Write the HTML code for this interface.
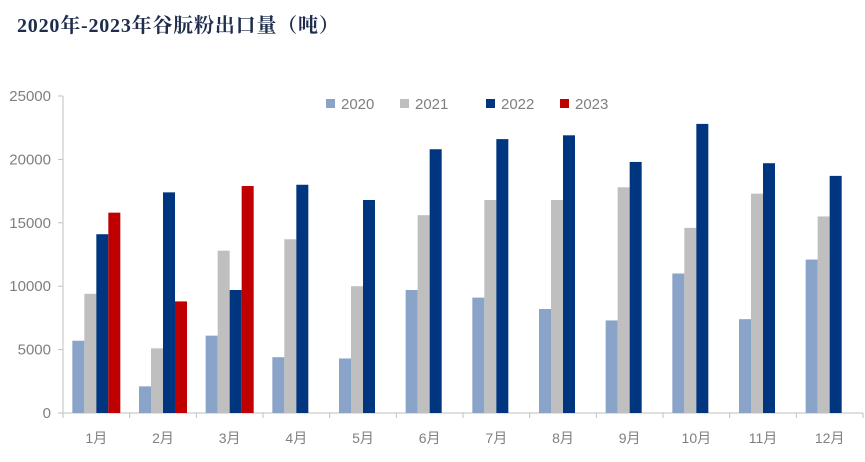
<!DOCTYPE html>
<html><head><meta charset="utf-8"><style>
body{margin:0;background:#fff;width:865px;height:462px;overflow:hidden}
.t{position:absolute;left:17px;top:9px;font:bold 20px "Liberation Serif","Noto Serif CJK SC",serif;letter-spacing:0.8px;color:#1f2d4d}
</style></head><body>
<div class="t">2020年-2023年谷朊粉出口量（吨）</div>
<svg id="c" width="865" height="462" style="position:absolute;left:0;top:0"></svg>
<script>
const categories=["1月","2月","3月","4月","5月","6月","7月","8月","9月","10月","11月","12月"];
const s2020=[5700,2100,6100,4400,4300,9700,9100,8200,7300,11000,7400,12100];
const s2021=[9400,5100,12800,13700,10000,15600,16800,16800,17800,14600,17300,15500];
const s2022=[14100,17400,9700,18000,16800,20800,21600,21900,19800,22800,19700,18700];
const s2023=[15800,8800,17900,null,null,null,null,null,null,null,null,null];
const yTicks=[0,5000,10000,15000,20000,25000];
const seriesNames=["2020","2021","2022","2023"];
const colors=["#8aa3c8","#bfbfbf","#003580","#c00000"];
const NS="http://www.w3.org/2000/svg";
const svg=document.getElementById('c');
const x0=63,x1=863,y0=413,yTop=96,yMax=25000;
const cw=(x1-x0)/categories.length,bw=12;
const y=v=>y0-(v/yMax)*(y0-yTop);
function mk(t,a){const e=document.createElementNS(NS,t);for(const k in a)e.setAttribute(k,a[k]);svg.appendChild(e);return e;}
let ax=mk('line',{x1:x0,y1:yTop,x2:x0,y2:y0,stroke:'#bfbfbf','stroke-width':1});


let bx=mk('line',{x1:x0,y1:y0,x2:x1,y2:y0,stroke:'#bfbfbf','stroke-width':1});


yTicks.forEach(v=>{
 mk('line',{x1:x0-5,y1:y(v),x2:x0,y2:y(v),stroke:'#bfbfbf'});
 const t=mk('text',{x:x0-12,y:y(v)+5,'text-anchor':'end','font-size':15,fill:'#7f7f7f','font-family':'Liberation Sans,sans-serif'});
 t.textContent=v;
 
 
});
const all=[s2020,s2021,s2022,s2023];
categories.forEach((c,i)=>{
 const gx=x0+i*cw;
 mk('line',{x1:gx,y1:y0,x2:gx,y2:y0+5,stroke:'#bfbfbf'});
 const t=mk('text',{x:gx+cw/2,y:y0+30,'text-anchor':'middle','font-size':14,fill:'#7f7f7f','font-family':'Liberation Sans,Noto Sans CJK SC,sans-serif'});
 t.textContent=c;
 
 
 const start=gx+cw/2-2*bw;
 all.forEach((s,k)=>{
  if(s[i]==null)return;
  const r=mk('rect',{x:start+k*bw,y:y(s[i]),width:bw,height:y0-y(s[i]),fill:colors[k]});
  
  
 });
});
mk('line',{x1:x1,y1:y0,x2:x1,y2:y0+5,stroke:'#bfbfbf'});
const lx=[326,400,486,560];
seriesNames.forEach((n,k)=>{
 const r=mk('rect',{x:lx[k],y:99,width:9,height:9,fill:colors[k]});
 
 
 const t=mk('text',{x:lx[k]+15,y:109,'font-size':15,fill:'#7f7f7f','font-family':'Liberation Sans,sans-serif'});
 t.textContent=n;
 
 
});
</script>
</body></html>
